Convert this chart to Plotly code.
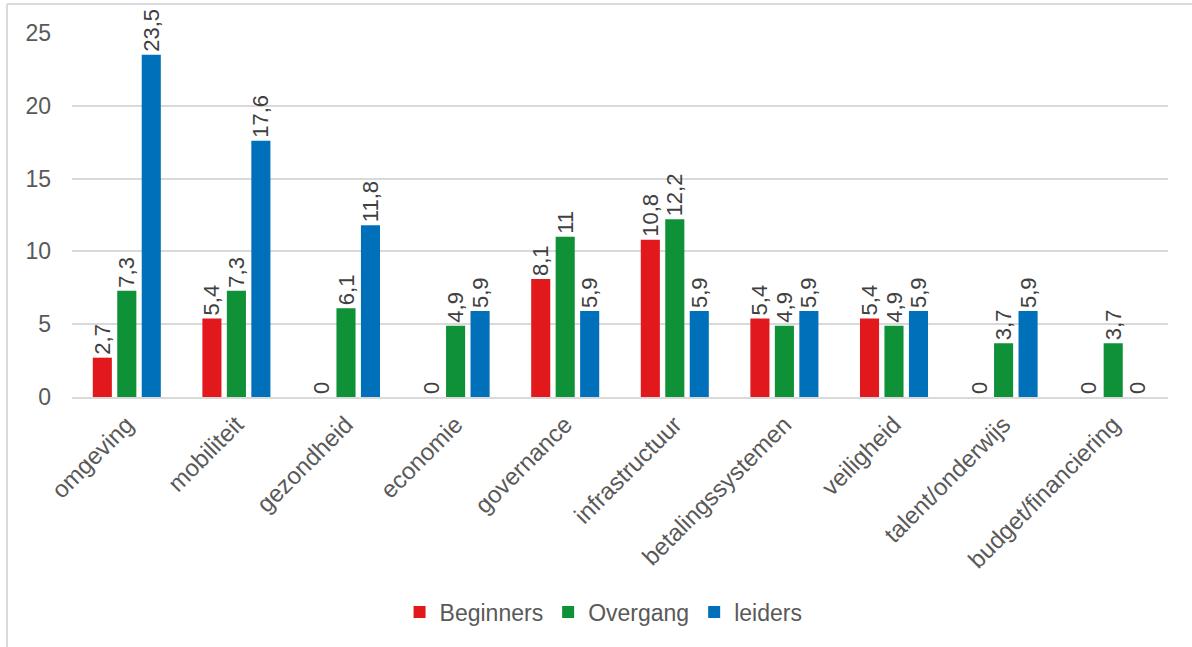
import plotly.graph_objects as go

categories = ["omgeving", "mobiliteit", "gezondheid", "economie", "governance",
              "infrastructuur", "betalingssystemen", "veiligheid",
              "talent/onderwijs", "budget/financiering"]

beginners = [2.7, 5.4, 0, 0, 8.1, 10.8, 5.4, 5.4, 0, 0]
overgang = [7.3, 7.3, 6.1, 4.9, 11, 12.2, 4.9, 4.9, 3.7, 3.7]
leiders = [23.5, 17.6, 11.8, 5.9, 5.9, 5.9, 5.9, 5.9, 5.9, 0]

y_ticks = [0, 5, 10, 15, 20, 25]

series = [
    ("Beginners", beginners, "#E2191C"),
    ("Overgang", overgang, "#0F9137"),
    ("leiders", leiders, "#0070BA"),
]

FONT = "Liberation Sans, Arial, sans-serif"
TEXT_GREY = "#595959"


def fmt(v):
    # Dutch decimal comma, integers without decimals
    s = f"{v:g}"
    return s.replace(".", ",")


fig = go.Figure()
for name, vals, color in series:
    fig.add_trace(go.Bar(
        x=categories,
        y=vals,
        name=name,
        marker=dict(color=color, line=dict(width=0)),
        text=[fmt(v) for v in vals],
        textposition="outside",
        textangle=-90,
        constraintext="none",
        cliponaxis=False,
        textfont=dict(family=FONT, size=22, color="#404040"),
    ))

W, H = 1192, 647
ml, mr, mt, mb = 72, 24, 33, 250
pw, ph = W - ml - mr, H - mt - mb

fig.update_layout(
    width=W, height=H,
    margin=dict(l=ml, r=mr, t=mt, b=mb),
    paper_bgcolor="white",
    plot_bgcolor="white",
    barmode="group",
    bargap=0.33,
    bargroupgap=0.22,
    font=dict(family=FONT, color=TEXT_GREY),
    showlegend=True,
    legend=dict(
        orientation="h",
        x=0.485, xanchor="center",
        y=(mt + ph - 612) / ph, yanchor="middle",
        font=dict(family=FONT, size=23, color=TEXT_GREY),
        itemwidth=30,
        traceorder="normal",
    ),
    xaxis=dict(
        tickangle=-45,
        tickfont=dict(family=FONT, size=24, color=TEXT_GREY),
        showgrid=False,
        showline=True,
        linecolor="#D9D9D9",
        linewidth=2,
        ticks="",
        ticklabelstandoff=2,
    ),
    yaxis=dict(
        range=[0, 25],
        tickvals=y_ticks,
        ticktext=[str(t) for t in y_ticks],
        tickfont=dict(family=FONT, size=23, color=TEXT_GREY),
        showgrid=True,
        gridcolor="#D9D9D9",
        gridwidth=2,
        zeroline=False,
        showline=False,
        ticks="",
        ticklabelstandoff=20,
    ),
)

# Chart-area frame (top and left edges)
fig.add_shape(type="line", xref="paper", yref="paper",
              x0=(7 - ml) / pw, x1=(W + 5 - ml) / pw,
              y0=1 + (mt - 4) / ph, y1=1 + (mt - 4) / ph,
              line=dict(color="#D9D9D9", width=2))
fig.add_shape(type="line", xref="paper", yref="paper",
              x0=(7 - ml) / pw, x1=(7 - ml) / pw,
              y0=1 + (mt - 4) / ph, y1=-(H + 5 - mt - ph) / ph,
              line=dict(color="#D9D9D9", width=2))

fig.write_html("out.html")
